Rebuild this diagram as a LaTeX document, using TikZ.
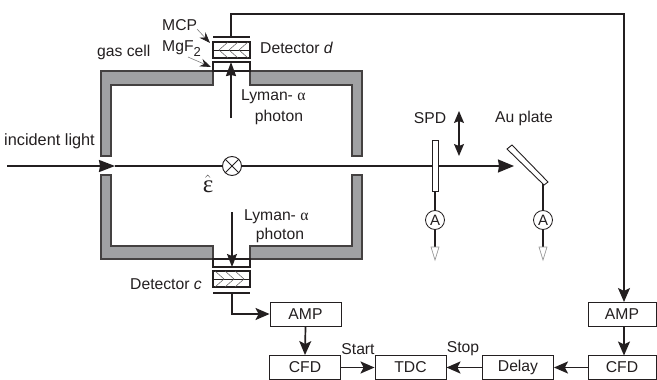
\documentclass[tikz,border=0pt]{standalone}
\usepackage{fontspec}
\setmainfont{Liberation Sans}
\newfontfamily\greekfont{Liberation Serif}
\usetikzlibrary{arrows.meta}
\definecolor{ink}{HTML}{231F20}
\definecolor{wallgray}{HTML}{A0A1A3}
\tikzset{
  every node/.style={text=ink,font=\fontsize{15.7}{18}\selectfont,inner sep=0pt},
  box/.style={draw=ink,line width=0.9pt,fill=white,minimum width=71pt,minimum height=24pt},
  wall/.style={draw=ink!85,line width=1.1pt,fill=wallgray},
  conn/.style={draw=ink,line width=1.7pt,-{Stealth[length=14pt,width=12pt,inset=3pt]}},
  thinconn/.style={draw=ink,line width=1.1pt},
  plate/.style={draw=ink,line width=1.1pt,fill=white},
  hatchline/.style={draw=ink!75,line width=0.5pt},
  meter/.style={circle,draw=ink,line width=0.8pt,fill=white,minimum size=19pt,font=\fontsize{15}{16}\selectfont},
  ground/.style={draw=black!40,line width=0.7pt,fill=white},
  pointer/.style={draw=black!50,line width=0.6pt,-{Stealth[length=11pt,width=8pt,color=ink]}}
}
\begin{document}
\begin{tikzpicture}[x=1pt,y=-1pt]
\useasboundingbox (0,0) rectangle (657,380);
% gas cell walls
\path[wall] (213,71) -- (101,71) -- (101,156) -- (111,156) -- (111,85) -- (213,85) -- cycle;
\path[wall] (250,71) -- (362,71) -- (362,156) -- (352,156) -- (352,85) -- (250,85) -- cycle;
\path[wall] (213,259) -- (101,259) -- (101,175) -- (111,175) -- (111,246) -- (213,246) -- cycle;
\path[wall] (250,259) -- (362,259) -- (362,175) -- (352,175) -- (352,246) -- (250,246) -- cycle;
% windows
\draw[plate] (213,62) rectangle (250,71);
\draw[plate] (213,259) rectangle (250,267);
% detector d
\draw[plate] (213,42) rectangle (250,58);
\draw[thinconn,line width=0.8pt] (213,50) -- (250,50);
\foreach \x in {219,229,239}{
  \draw[hatchline] (\x,50) -- (\x+9,42);
  \draw[hatchline] (\x,50) -- (\x+9,58);
}
\draw[thinconn] (213,37) -- (250,37);
% detector c
\draw[plate] (213,271) rectangle (250,287);
\draw[thinconn,line width=0.8pt] (213,279) -- (250,279);
\foreach \x in {215,225,235}{
  \draw[hatchline] (\x,271) -- (\x+9,279);
  \draw[hatchline] (\x,287) -- (\x+9,279);
}
\draw[thinconn] (213,293) -- (250,293);
% boxes
\node[box] (ampc) at (305.5,314) {AMP};
\node[box] (cfdc) at (305,367.5) {CFD};
\node[box] (tdc) at (410.5,367.5) {TDC};
\node[box] (delay) at (518,367.5) {Delay};
\node[box,minimum width=68pt] (cfdd) at (622,367.5) {CFD};
\node[box,minimum width=68pt] (ampd) at (622,314) {AMP};
% optics
\node[draw=ink,line width=0.9pt,fill=white,minimum width=19pt,minimum height=19pt,circle] (cross) at (232,166) {};
\coordinate (beamstart) at (7,166);
\coordinate (beamin) at (115,166);
\coordinate (beamend) at (514,166);
\draw[conn,-{Stealth[length=16pt,width=12pt,inset=1pt]}] (beamstart) -- (beamin);
\draw[draw=ink,line width=1.7pt] (beamin) -- (cross.west);
\draw[conn,-{Stealth[length=16pt,width=13pt,inset=1pt]}] (cross.east) -- (beamend);
\draw[ink,line width=0.9pt] (cross.north west) -- (cross.south east) (cross.north east) -- (cross.south west);
\node[draw=ink,line width=0.9pt,fill=white,minimum width=6pt,minimum height=51pt] (spd) at (435,165.5) {};
\draw[draw=ink,line width=0.9pt,fill=white] (507,149) -- (512,145) -- (548,182) -- (544,185) -- cycle;
\coordinate (au) at (543,184);
\node[meter] (aleft) at (435,220) {A};
\node[meter] (aright) at (543,220) {A};
\coordinate (gleft) at (435,247);
\coordinate (gright) at (543,247);
\draw[thinconn] (spd.south) -- (aleft.north);
\draw[thinconn] (aleft.south) -- (gleft);
\draw[thinconn] (au) -- (aright.north);
\draw[thinconn] (aright.south) -- (gright);
\draw[ground] (431,247) -- (439,247) -- (435,260) -- cycle;
\draw[ground] (539,247) -- (547,247) -- (543,260) -- cycle;
% SPD motion arrow
\coordinate (spdtop) at (459,111);
\coordinate (spdbot) at (459,156);
\draw[draw=ink,line width=1.2pt,{Stealth[length=12pt,width=10pt,inset=2pt]}-{Stealth[length=12pt,width=10pt,inset=2pt]}] (spdtop) -- (spdbot);
% photons
\coordinate (lyupstart) at (231,118);
\coordinate (lyuptip) at (231,62);
\draw[conn,-{Stealth[length=14pt,width=10pt,inset=1pt]}] (lyupstart) -- (lyuptip);
\coordinate (lydownstart) at (232,212);
\coordinate (lydowntip) at (232,267);
\draw[conn,line width=1.4pt,-{Stealth[length=13pt,width=10pt,inset=2pt]}] (lydownstart) -- (lydowntip);
% pointers
\coordinate (mcpfrom) at (197,29);
\coordinate (mcpto) at (210,43);
\coordinate (mgfrom) at (188,57);
\coordinate (mgto) at (211,67);
\draw[pointer] (mcpfrom) -- (mcpto);
\draw[pointer] (mgfrom) -- (mgto);
% detector signal paths
\coordinate (dplate) at (231,37);
\coordinate (dcorner) at (624,14);
\coordinate (cplate) at (232,293);
\coordinate (ampdtop) at (624,302);
\coordinate (ampdbot) at (624,326);
\coordinate (cfddtop) at (624,355.5);
\draw[conn,line width=1.4pt] (dplate) |- (dcorner) -- (ampdtop);
\draw[conn] (cplate) |- (ampc.west);
\draw[conn] (ampdbot) -- (cfddtop);
\draw[conn] (ampc.south) -- (cfdc.north);
\draw[conn] (cfdc.east) -- (tdc.west);
\draw[conn] (delay.west) -- (tdc.east);
\draw[conn] (cfdd.west) -- (delay.east);
% labels
\node[anchor=west] (lmcp) at (162,25) {MCP};
\node[anchor=west] (lmgf) at (162,49) {MgF\raisebox{-5pt}{\fontsize{13}{14}\selectfont 2}};
\node[anchor=west] (lgas) at (97,52) {gas cell};
\node[anchor=west] (ldetd) at (260,48) {Detector \textit{d}};
\node[anchor=west] (ldetc) at (130,284) {Detector \textit{c}};
\node[anchor=west] (lly1) at (241,97) {Lyman- {\greekfont α}};
\node (lph1) at (279,117) {photon};
\node[anchor=west] (lly2) at (244,217) {Lyman- {\greekfont α}};
\node (lph2) at (280,235) {photon};
\node[anchor=west] (linc) at (4,141) {\fontsize{16.3}{18}\selectfont incident light};
\node (lspd) at (430,118) {SPD};
\node (lau) at (524,118) {Au plate};
\node (leps) at (208,184) {\fontsize{20}{22}\selectfont$\hat{\hbox{\greekfont\fontsize{25}{26}\selectfont ε}}$};
\node (lstart) at (358,349) {Start};
\node (lstop) at (463,349) {Stop};
\end{tikzpicture}
\end{document}
